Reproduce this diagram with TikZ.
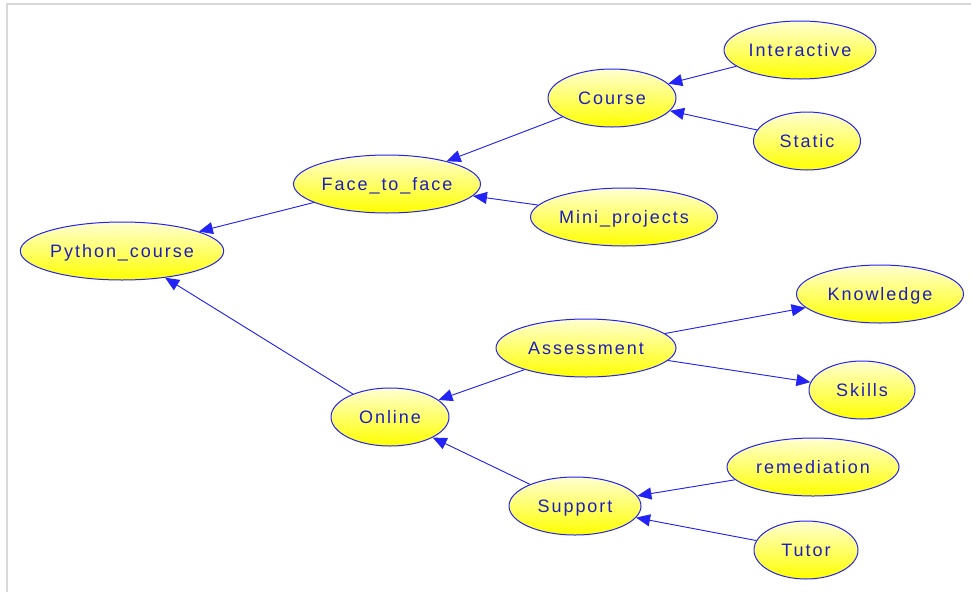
\documentclass[tikz,border=0pt]{standalone}
\usepackage{fontspec}
\newfontfamily\netfont[LetterSpace=11]{Liberation Sans}
\usetikzlibrary{arrows.meta,shapes.geometric}
\definecolor{netblue}{RGB}{35,35,245}
\definecolor{textblue}{RGB}{30,30,190}
\definecolor{framegray}{RGB}{216,216,216}
\tikzset{%
  >={Triangle[width=12pt,length=14pt]},
  % Specifications for style of nodes:
      base/.style = {ellipse, draw=netblue, line width=1pt, inner sep=0pt,
                     minimum height=58pt, top color=yellow!18!white,
                     bottom color=yellow, text=textblue, text depth=0pt,
                     font=\netfont\fontsize{18}{20}\selectfont},
      link/.style = {->, draw=netblue, line width=0.9pt, fill=netblue},
}

\begin{document}
\begin{tikzpicture}[x=1pt, y=-1pt]
    \useasboundingbox (0,0) rectangle (971,592);
    \fill[white] (0,0) rectangle (971,592);
    \draw[framegray, line width=2pt] (7,592) -- (7,4) -- (971,4);

    \node (python)      [base, minimum width=202pt] at (122,251) {Python\_course};
    \node (face)        [base, minimum width=187pt] at (387,184) {Face\_to\_face};
    \node (online)      [base, minimum width=118pt] at (390,417) {Online};
    \node (course)      [base, minimum width=128pt] at (612,98)  {Course};
    \node (mini)        [base, minimum width=187pt] at (624,217) {Mini\_projects};
    \node (interactive) [base, minimum width=152pt] at (800,50)  {Interactive};
    \node (static)      [base, minimum width=107pt] at (807,141) {Static};
    \node (assessment)  [base, minimum width=180pt] at (586,348) {Assessment};
    \node (support)     [base, minimum width=132pt] at (575,506) {Support};
    \node (knowledge)   [base, minimum width=167pt] at (880,294) {Knowledge};
    \node (skills)      [base, minimum width=106pt] at (862,390) {Skills};
    \node (remediation) [base, minimum width=172pt] at (813,467) {remediation};
    \node (tutor)       [base, minimum width=104pt] at (806,550) {Tutor};

    \draw[link] (face) -- (python);
    \draw[link] (online) -- (python);
    \draw[link] (course) -- (face);
    \draw[link] (mini) -- (face);
    \draw[link] (interactive) -- (course);
    \draw[link] (static) -- (course);
    \draw[link] (assessment) -- (online);
    \draw[link] (support) -- (online);
    \draw[link] (assessment) -- (knowledge);
    \draw[link] (assessment) -- (skills);
    \draw[link] (remediation) -- (support);
    \draw[link] (tutor) -- (support);

\end{tikzpicture}
\end{document}
